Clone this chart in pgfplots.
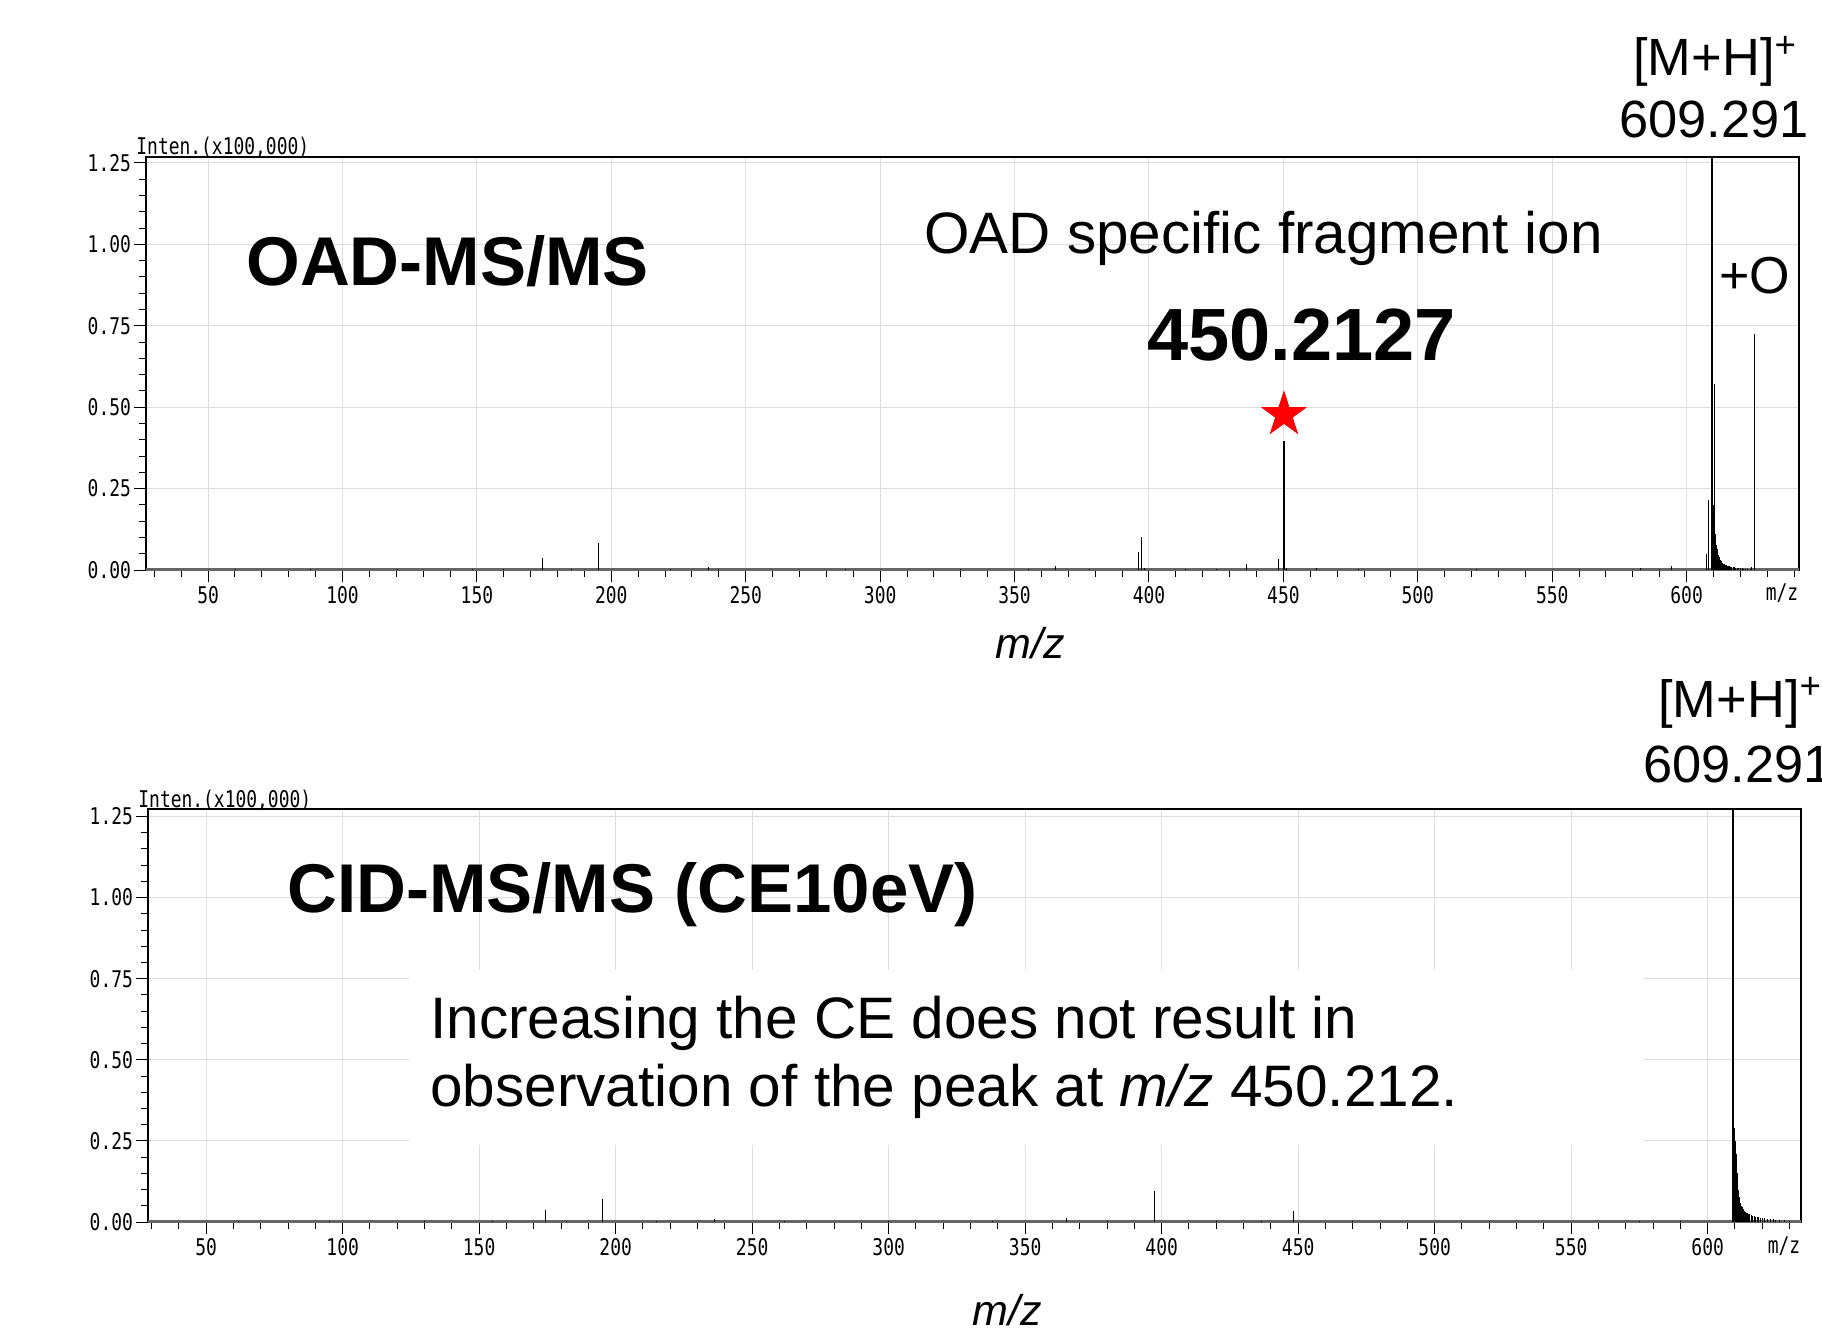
\documentclass[border=0pt]{standalone}
\usepackage{fontspec}
\setmainfont{Liberation Sans}
\newfontfamily\gothic[FakeStretch=0.78]{DejaVu Sans Mono}
\usepackage{pgfplots}
\usepackage{pgfplotstable}
\pgfplotsset{compat=1.18}

% filled five-point star
\pgfdeclareplotmark{fstar}{%
  \pgfpathmoveto{\pgfpointpolar{90}{\pgfplotmarksize}}%
  \pgfpathlineto{\pgfpointpolar{126}{0.382\pgfplotmarksize}}%
  \pgfpathlineto{\pgfpointpolar{162}{\pgfplotmarksize}}%
  \pgfpathlineto{\pgfpointpolar{198}{0.382\pgfplotmarksize}}%
  \pgfpathlineto{\pgfpointpolar{234}{\pgfplotmarksize}}%
  \pgfpathlineto{\pgfpointpolar{270}{0.382\pgfplotmarksize}}%
  \pgfpathlineto{\pgfpointpolar{306}{\pgfplotmarksize}}%
  \pgfpathlineto{\pgfpointpolar{342}{0.382\pgfplotmarksize}}%
  \pgfpathlineto{\pgfpointpolar{18}{\pgfplotmarksize}}%
  \pgfpathlineto{\pgfpointpolar{54}{0.382\pgfplotmarksize}}%
  \pgfpathclose
  \pgfusepathqfillstroke}

% OAD-MS/MS peaks (m/z, intensity x100,000)
\pgfplotstableread{
mz int
60.2 0.003
88.1 0.003
120.5 0.002
148.3 0.004
160.0 0.003
174.3 0.038
185.0 0.004
195.3 0.082
222.0 0.003
236.3 0.009
240.0 0.004
287.0 0.003
330.0 0.003
355.0 0.004
365.4 0.012
378.0 0.003
396.2 0.055
397.3 0.100
398.3 0.005
413.5 0.004
425.0 0.004
436.2 0.017
448.3 0.034
451.0 0.005
462.2 0.006
478.0 0.003
522.0 0.003
560.0 0.004
583.0 0.005
590.0 0.004
594.4 0.012
607.3 0.049
608.3 0.215
610.29 0.571
624.2 0.010
625.3 0.725
}\oadpeaks

% OAD tail of the precursor
\pgfplotstableread{
mz int
609.35 0.30
609.45 0.29
609.55 0.27
609.65 0.25
609.75 0.22
609.85 0.20
609.95 0.18
610.05 0.16
610.15 0.15
610.40 0.13
610.50 0.12
610.60 0.11
610.70 0.10
610.80 0.092
610.90 0.085
611.00 0.078
611.15 0.070
611.30 0.063
611.45 0.057
611.60 0.052
611.75 0.047
611.90 0.043
612.05 0.040
612.20 0.037
612.40 0.033
612.60 0.030
612.80 0.027
613.00 0.025
613.25 0.023
613.50 0.021
613.75 0.019
614.00 0.018
614.30 0.016
614.60 0.015
614.90 0.014
615.20 0.013
615.60 0.012
616.00 0.011
616.40 0.010
616.80 0.009
617.30 0.008
617.80 0.008
618.30 0.007
618.80 0.006
619.40 0.006
620.00 0.005
620.60 0.005
621.30 0.004
622.00 0.004
622.80 0.003
623.60 0.003
}\oadtail

% CID-MS/MS peaks
\pgfplotstableread{
mz int
62.0 0.003
95.0 0.002
130.0 0.003
155.0 0.003
174.2 0.037
182.0 0.003
195.3 0.070
215.0 0.003
236.3 0.008
262.0 0.003
300.0 0.002
338.0 0.003
365.1 0.011
380.0 0.003
397.4 0.097
420.0 0.003
436.4 0.004
448.4 0.034
470.0 0.003
520.0 0.003
575.0 0.004
590.0 0.004
}\cidpeaks

\pgfplotstableread{
mz int
609.40 0.29
609.50 0.29
609.60 0.29
609.70 0.29
609.80 0.28
609.90 0.27
610.00 0.26
610.10 0.25
610.20 0.24
610.30 0.23
610.40 0.21
610.50 0.19
610.60 0.17
610.70 0.16
610.80 0.15
610.90 0.14
611.00 0.12
611.10 0.11
611.20 0.10
611.35 0.09
611.50 0.078
611.65 0.070
611.80 0.064
612.00 0.058
612.20 0.053
612.45 0.048
612.70 0.045
613.00 0.041
613.30 0.037
613.60 0.034
613.90 0.031
614.20 0.029
614.60 0.027
615.00 0.026
615.50 0.024
616.00 0.022
616.50 0.020
617.00 0.018
617.60 0.016
618.20 0.015
618.80 0.014
619.50 0.013
620.20 0.012
621.00 0.011
622.00 0.010
623.00 0.009
624.00 0.008
625.00 0.007
626.50 0.006
628.00 0.005
630.00 0.004
}\cidtail

\newcommand\tickfont{\gothic\fontsize{11.5pt}{13pt}\selectfont}

\pgfplotsset{
  msaxis/.style={
    scale only axis,
    width=826.5pt, height=206.5pt,
    ymin=0,
    ytick={0,0.25,0.5,0.75,1,1.25},
    yticklabels={0.00,0.25,0.50,0.75,1.00,1.25},
    minor ytick={0,0.05,...,1.26},
    xtick={50,100,150,200,250,300,350,400,450,500,550,600},
    xticklabels={50,100,150,200,250,300,350,400,450,500,550,600},
    minor xtick={30,40,...,640},
    tick align=outside,
    major tick length=6pt, minor tick length=3.5pt,
    tick style={black, line width=0.5pt},
    grid=major,
    major grid style={black!13, line width=0.5pt},
    axis line style={line width=0.6pt},
    ticklabel style={font=\tickfont},
    yticklabel style={xshift=2pt},
    xticklabel style={yshift=1.5pt},
    xtick pos=bottom, ytick pos=left,
  },
  peak/.style={ycomb, black, mark=none, line width=0.5pt},
}

\begin{document}
\begin{tikzpicture}
\useasboundingbox (0,0) rectangle (911pt,-667.5pt);

% ---- OAD-MS/MS ----
\begin{axis}[msaxis, at={(73pt,-285pt)}, anchor=south west,
  xmin=26.9, xmax=641.8, ymax=1.268]
  \addplot[black!60, line width=1.2pt] coordinates {(26.9,0.002) (641.8,0.002)};
  \addplot[peak] table[x=mz, y=int] {\oadpeaks};
  \addplot[peak] table[x=mz, y=int] {\oadtail};
  \addplot[peak, line width=0.8pt] coordinates {(450.21,0.395)};
  \addplot[peak, line width=1.1pt] coordinates {(609.29,1.35)};
  \addplot[only marks, mark=fstar, mark size=11.5pt, red,
    mark options={fill=red, draw=red}] coordinates {(450.21,0.477)};
\end{axis}

% ---- CID-MS/MS ----
\begin{axis}[msaxis, at={(74pt,-611pt)}, anchor=south west,
  xmin=28.7, xmax=634.2, ymax=1.273]
  \addplot[black!60, line width=1.2pt] coordinates {(28.7,0.002) (634.2,0.002)};
  \addplot[peak] table[x=mz, y=int] {\cidpeaks};
  \addplot[peak] table[x=mz, y=int] {\cidtail};
  \addplot[peak, line width=1.1pt] coordinates {(609.29,1.35)};
\end{axis}

\fill[white] (204.5pt,-485pt) rectangle (822pt,-572.5pt);

% texts of the top panel
\node[anchor=base west, inner sep=0, font=\tickfont] at (68pt,-77pt) {Inten.(x100,000)};
\node[anchor=base, inner sep=0, font=\tickfont] at (891pt,-300pt) {m/z};
\node[anchor=base west, inner sep=0, font=\bfseries\fontsize{34.5pt}{40pt}\selectfont] at (123pt,-142.5pt) {OAD-MS/MS};
\node[anchor=base west, inner sep=0, font=\fontsize{29.2pt}{34pt}\selectfont] at (462pt,-126.5pt) {OAD specific fragment ion};
\node[anchor=base west, inner sep=0, font=\bfseries\fontsize{37pt}{42pt}\selectfont] at (573.5pt,-180pt) {450.2127};
\node[anchor=base west, inner sep=0, font=\fontsize{26.2pt}{30pt}\selectfont] at (816.5pt,-37.75pt) {[M+H]\textsuperscript{+}};
\node[anchor=base west, inner sep=0, font=\fontsize{26.2pt}{30pt}\selectfont] at (809.5pt,-68.5pt) {609.291};
\node[anchor=base west, inner sep=0, font=\fontsize{26pt}{30pt}\selectfont] at (859.5pt,-146.5pt) {+O};
\node[anchor=base, inner sep=0, font=\itshape\fontsize{21.5pt}{25pt}\selectfont] at (515pt,-329pt) {m/z};

% texts of the bottom panel
\node[anchor=base west, inner sep=0, font=\tickfont] at (69pt,-403.5pt) {Inten.(x100,000)};
\node[anchor=base, inner sep=0, font=\tickfont] at (892pt,-626.5pt) {m/z};
\node[anchor=base west, inner sep=0, font=\bfseries\fontsize{34.5pt}{40pt}\selectfont] at (143.5pt,-456pt) {CID-MS/MS (CE10eV)};
\node[anchor=base west, inner sep=0, font=\fontsize{26.2pt}{30pt}\selectfont] at (829pt,-358.5pt) {[M+H]\textsuperscript{+}};
\node[anchor=base west, inner sep=0, font=\fontsize{26.2pt}{30pt}\selectfont] at (821.5pt,-391pt) {609.291};
\node[anchor=base west, inner sep=0, font=\fontsize{29.25pt}{34pt}\selectfont] at (215pt,-519pt) {Increasing the CE does not result in};
\node[anchor=base west, inner sep=0, font=\fontsize{29.25pt}{34pt}\selectfont] at (215pt,-553pt) {observation of the peak at \textit{m/z} 450.212.};
\node[anchor=base, inner sep=0, font=\itshape\fontsize{21.5pt}{25pt}\selectfont] at (503.5pt,-662.5pt) {m/z};
\end{tikzpicture}
\end{document}
